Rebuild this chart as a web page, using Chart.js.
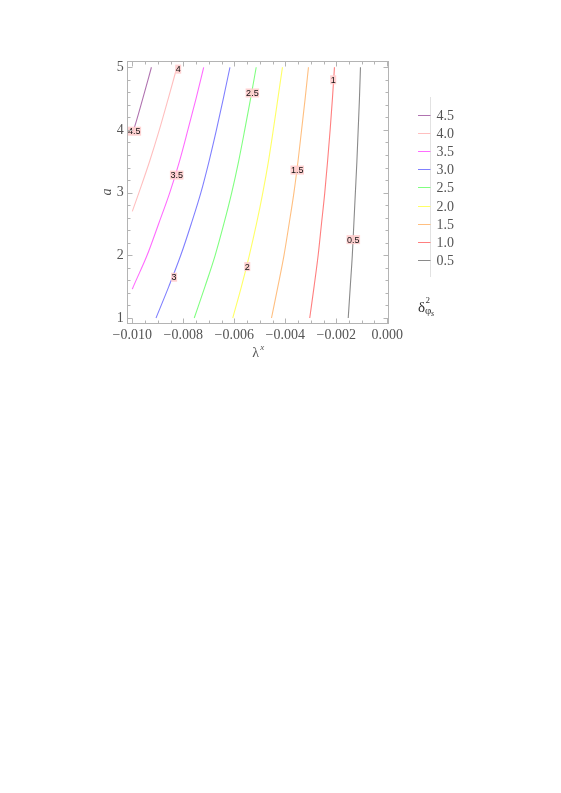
<!DOCTYPE html>
<html lang="en">
<head>
    <meta charset="UTF-8">
    <title>contours</title>
    <script src="https://cdn.jsdelivr.net/npm/chart.js@4.4.1/dist/chart.umd.min.js"></script>
    <style>
      html, body { margin: 0; padding: 0; background: #fff; }
      #wrap { width: 561px; height: 793px; }
    </style>
</head>
<body>
    <div id="wrap"><canvas id="contour" width="561" height="793"></canvas></div>

    <script>
      // values
      var aLevels = [1, 1.5, 2, 2.5, 3, 3.5, 4, 4.5, 5]
      var lam05 = [-0.00153, -0.00145, -0.00137, -0.00131, -0.00125, -0.00119, -0.00114, -0.00109, -0.00105]
      var lam10 = [-0.00304, -0.00287, -0.00271, -0.00258, -0.00245, -0.00234, -0.00224, -0.00215, -0.00207]
      var lam15 = [-0.00454, -0.00429, -0.00405, -0.00385, -0.00366, -0.00350, -0.00336, -0.00322, -0.00309]
      var lam20 = [-0.00606, -0.00572, -0.00541, -0.00513, -0.00488, -0.00466, -0.00447, -0.00429, -0.00411]
      var lam25 = [-0.00757, -0.00715, -0.00675, -0.00641, -0.00610, -0.00583, -0.00559, -0.00536, -0.00514]
      var lam30 = [-0.00907, -0.00857, -0.00810, -0.00769, -0.00731, -0.00699, -0.00670, -0.00643, -0.00617]
      var a35 = [1.46, 1.5, 2, 2.5, 3, 3.5, 4, 4.5, 5]
      var lam35 = [-0.01000, -0.00996, -0.00942, -0.00897, -0.00853, -0.00815, -0.00782, -0.00750, -0.00720]
      var a40 = [2.70, 3, 3.5, 4, 4.5, 5]
      var lam40 = [-0.01000, -0.00974, -0.00932, -0.00894, -0.00859, -0.00825]
      var a45 = [3.95, 4, 4.5, 5]
      var lam45 = [-0.01000, -0.00995, -0.00959, -0.00925]

      var levels = [0.5, 1, 1.5, 2, 2.5, 3, 3.5, 4, 4.5]
      var levelColors = ['#8a8a8a', '#ff7f7f', '#ffbf80', '#ffff66', '#80ff80', '#8080ff', '#ff6cff', '#ffbfbf', '#b073b0']

      // contour labels (λ, a)
      var labelText = ['0.5', '1', '1.5', '2', '2.5', '3', '3.5', '4', '4.5']
      var labelLam = [-0.00133, -0.00212, -0.00353, -0.00549, -0.00529, -0.00836, -0.00826, -0.00820, -0.00992]
      var labelA = [2.25, 4.80, 3.36, 1.82, 4.59, 1.65, 3.28, 4.97, 3.98]

      var xTicks = [-0.010, -0.008, -0.006, -0.004, -0.002, 0.000]
      var yTicks = [1, 2, 3, 4, 5]

      function pts(lams, as){
        var out = []
        for(let i=0;i<lams.length;i++){ out.push({x: lams[i], y: as[i]}) }
        return out
      }

      var curves = [
        pts(lam05, aLevels), pts(lam10, aLevels), pts(lam15, aLevels),
        pts(lam20, aLevels), pts(lam25, aLevels), pts(lam30, aLevels),
        pts(lam35, a35), pts(lam40, a40), pts(lam45, a45)
      ]

      var datasets = curves.map((d, i) => ({
        label: String(levels[i]),
        data: d,
        showLine: true,
        borderColor: levelColors[i],
        borderWidth: 1.1,
        pointRadius: 0,
        cubicInterpolationMode: 'monotone'
      }))

      var serif = '"Liberation Serif", "Times New Roman", serif'

      var framePlugin = {
        id: 'frame',
        afterDatasetsDraw(chart){
          var ctx = chart.ctx, x = chart.scales.x, y = chart.scales.y
          ctx.save()
          ctx.font = '9px "Liberation Sans", Arial, sans-serif'
          ctx.textAlign = 'center'
          ctx.textBaseline = 'middle'
          for(let i=0;i<labelText.length;i++){
            var px = x.getPixelForValue(labelLam[i])
            var py = y.getPixelForValue(labelA[i])
            var w = ctx.measureText(labelText[i]).width + 1
            ctx.fillStyle = 'rgba(255, 205, 205, 0.9)'
            ctx.fillRect(px - w/2, py - 4.5, w, 9)
            ctx.fillStyle = '#111'
            ctx.fillText(labelText[i], px, py + 0.5)
          }
          ctx.restore()
        },
        afterDraw(chart){
          var ctx = chart.ctx, x = chart.scales.x, y = chart.scales.y
          var ca = chart.chartArea
          var L = Math.round(ca.left) + 0.5, R = Math.round(ca.right) + 0.5
          var T = Math.round(ca.top) + 0.5, B = Math.round(ca.bottom) + 0.5
          ctx.save()
          ctx.strokeStyle = '#b4b4b4'
          ctx.lineWidth = 1
          ctx.strokeRect(L, T, R - L, B - T)
          ctx.beginPath()
          // x ticks, major + minor, bottom and top
          for(let k=0;k<=20;k++){
            var v = -0.010 + k*0.0005
            var px = Math.round(x.getPixelForValue(v)) + 0.5
            var len = (k % 4 === 0) ? 5 : 3
            ctx.moveTo(px, B); ctx.lineTo(px, B - len)
            ctx.moveTo(px, T); ctx.lineTo(px, T + len)
          }
          for(let k=0;k<=20;k++){
            var v = 1 + k*0.2
            var py = Math.round(y.getPixelForValue(v)) + 0.5
            var len = (k % 5 === 0) ? 5 : 3
            ctx.moveTo(L, py); ctx.lineTo(L + len, py)
            ctx.moveTo(R, py); ctx.lineTo(R - len, py)
          }
          ctx.stroke()

          // axis titles
          ctx.fillStyle = '#555'
          ctx.textBaseline = 'alphabetic'
          var cx = (ca.left + ca.right)/2
          ctx.font = '14px ' + serif
          ctx.textAlign = 'left'
          ctx.fillText('λ', cx - 5, 357)
          ctx.font = 'italic 9px ' + serif
          ctx.fillText('x', cx + 3, 350)

          ctx.save()
          ctx.translate(111, (ca.top + ca.bottom)/2)
          ctx.rotate(-Math.PI/2)
          ctx.font = 'italic 14px ' + serif
          ctx.textAlign = 'center'
          ctx.fillText('a', 0, 0)
          ctx.restore()

          // bar legend on the right
          var lx = 430.5, top0 = 97, bot0 = 277
          ctx.strokeStyle = '#e2e2e2'
          ctx.beginPath(); ctx.moveTo(lx, top0); ctx.lineTo(lx, bot0); ctx.stroke()
          ctx.font = '14px ' + serif
          ctx.textAlign = 'left'
          ctx.textBaseline = 'middle'
          for(let i=levels.length-1;i>=0;i--){
            var row = levels.length - 1 - i
            var ly = Math.round(114.7 + row*18.17) + 0.5
            ctx.strokeStyle = levelColors[i]
            ctx.beginPath(); ctx.moveTo(418, ly); ctx.lineTo(lx, ly); ctx.stroke()
            ctx.fillStyle = '#555'
            ctx.fillText(levels[i].toFixed(1), 436.5, ly + 0.5)
          }
          // legend title  δ²_{φs}
          ctx.textBaseline = 'alphabetic'
          ctx.fillStyle = '#333'
          ctx.font = '15px ' + serif
          ctx.fillText('δ', 418, 312)
          ctx.font = '9px ' + serif
          ctx.fillText('2', 425.5, 303)
          ctx.font = '11px ' + serif
          ctx.fillText('φ', 425, 314)
          ctx.font = 'italic 8px ' + serif
          ctx.fillText('s', 431, 316)
          ctx.restore()
        }
      }

      function fmtX(v){
        var s = Math.abs(v).toFixed(3)
        return (v < -1e-9 ? '\u2212' : '') + s
      }

      var chart = new Chart(document.getElementById('contour'), {
        type: 'scatter',
        data: { datasets: datasets },
        options: {
          responsive: false,
          animation: false,
          events: [],
          layout: { padding: { left: 96.7, top: 61, right: 173, bottom: 430 } },
          plugins: { legend: { display: false }, tooltip: { enabled: false } },
          scales: {
            x: {
              type: 'linear',
              min: -0.01022,
              max: 0.00003,
              afterBuildTicks: s => { s.ticks = xTicks.map(v => ({ value: v })) },
              afterFit: s => { s.height = 40 },
              grid: { display: false, drawTicks: false },
              border: { display: false },
              ticks: {
                padding: 4,
                maxRotation: 0,
                autoSkip: false,
                color: '#555',
                font: { family: serif, size: 14 },
                callback: v => fmtX(v)
              }
            },
            y: {
              type: 'linear',
              min: 0.92,
              max: 5.1,
              afterBuildTicks: s => { s.ticks = yTicks.map(v => ({ value: v })) },
              afterFit: s => { s.width = 30 },
              grid: { display: false, drawTicks: false },
              border: { display: false },
              ticks: {
                padding: 3,
                autoSkip: false,
                color: '#555',
                font: { family: serif, size: 14 },
                callback: v => String(v)
              }
            }
          }
        },
        plugins: [framePlugin]
      })
    </script>
</body>
</html>
